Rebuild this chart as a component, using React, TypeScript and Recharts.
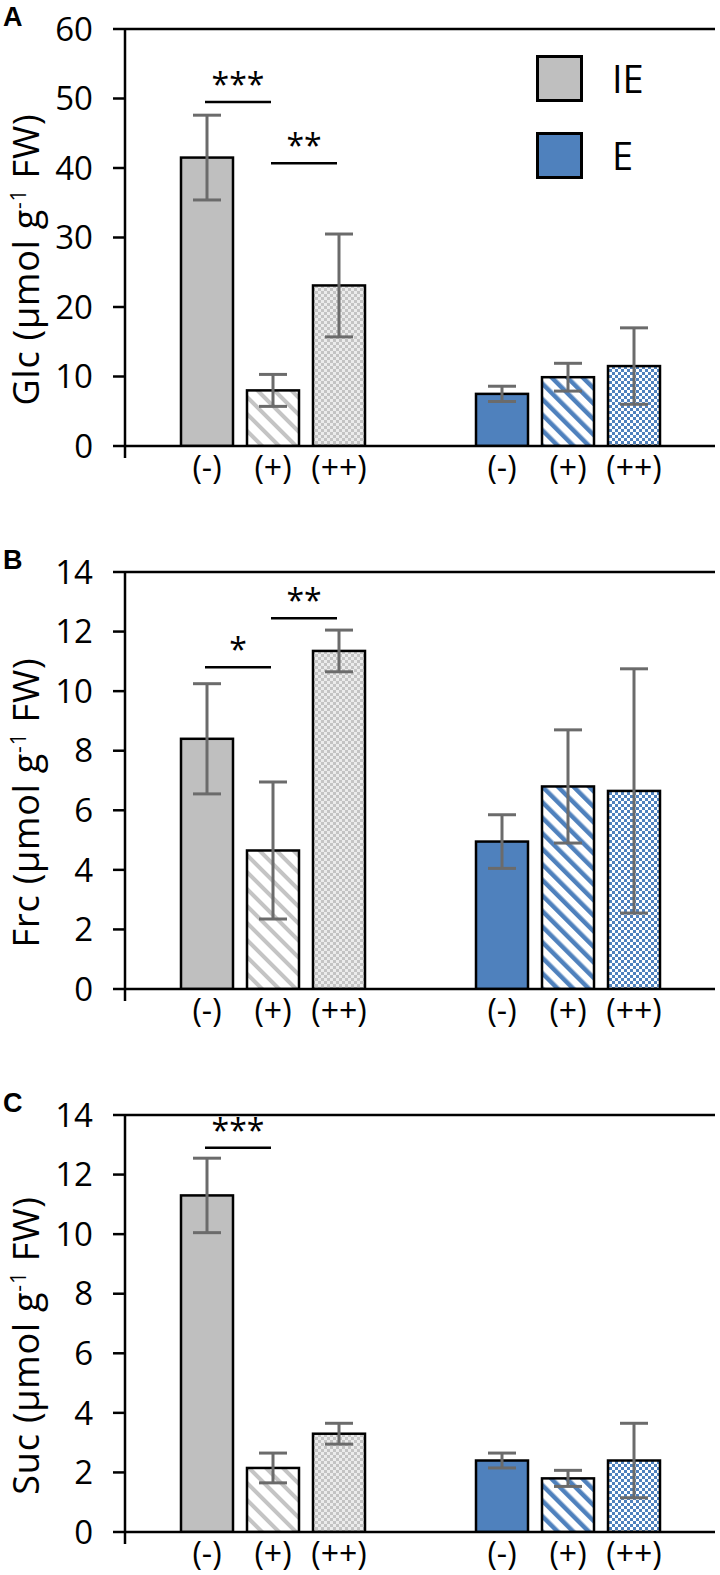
import React from 'react'
import { BarChart, Bar, XAxis, YAxis, ErrorBar, LabelList, ReferenceLine, Legend } from 'recharts'

const FONT = '"Open Sans", "Noto Sans", sans-serif'

const GROUPS = ['IE', 'E']
const TREATMENTS = ['(-)', '(+)', '(++)']

// values in order IE(-), IE(+), IE(++), E(-), E(+), E(++)
const GLC_MEAN = [41.5, 8.0, 23.1, 7.5, 9.9, 11.5]
const GLC_ERR = [6.1, 2.3, 7.4, 1.1, 2.0, 5.5]
const FRC_MEAN = [8.4, 4.65, 11.35, 4.95, 6.8, 6.65]
const FRC_ERR = [1.85, 2.3, 0.7, 0.9, 1.9, 4.1]
const SUC_MEAN = [11.3, 2.15, 3.3, 2.4, 1.8, 2.4]
const SUC_ERR = [1.25, 0.5, 0.35, 0.25, 0.27, 1.25]

// significance bars: between treatment `from` and `from + 1` within a group
const GLC_SIG = [
  { group: 0, from: 0, level: 49.5, stars: '***' },
  { group: 0, from: 1, level: 40.7, stars: '**' },
]
const FRC_SIG = [
  { group: 0, from: 0, level: 10.8, stars: '*' },
  { group: 0, from: 1, level: 12.45, stars: '**' },
]
const SUC_SIG = [{ group: 0, from: 0, level: 12.9, stars: '***' }]

const LEGEND_ITEMS = [
  { name: 'IE', color: '#bfbfbf' },
  { name: 'E', color: '#4f81bd' },
]

const FILLS = [
  ['#bfbfbf', 'url(#ieStripe)', 'url(#ieCheck)'],
  ['#4f81bd', 'url(#eStripe)', 'url(#eCheck)'],
]

const BAR_SIZE = 52
const BAR_GAP = 14
const CHART_W = 720

const PANELS = [
  { letter: 'A', name: 'Glc', yMax: 60, ticks: [0, 10, 20, 30, 40, 50, 60], mean: GLC_MEAN, err: GLC_ERR, sig: GLC_SIG, legend: true, h: 543 },
  { letter: 'B', name: 'Frc', yMax: 14, ticks: [0, 2, 4, 6, 8, 10, 12, 14], mean: FRC_MEAN, err: FRC_ERR, sig: FRC_SIG, legend: false, h: 543 },
  { letter: 'C', name: 'Suc', yMax: 14, ticks: [0, 2, 4, 6, 8, 10, 12, 14], mean: SUC_MEAN, err: SUC_ERR, sig: SUC_SIG, legend: false, h: 489 },
]

function buildRows(mean: number[], err: number[]) {
  return GROUPS.map((g, gi) => {
    const row: any = { group: g }
    TREATMENTS.forEach((_, ti) => {
      row['v' + ti] = mean[gi * 3 + ti]
      row['e' + ti] = err[gi * 3 + ti]
    })
    return row
  })
}

function boxOf(p: any) {
  const vb = p.viewBox && p.viewBox.width != null ? p.viewBox : p
  return { x: Number(vb.x), y: Number(vb.y), width: Number(vb.width), height: Number(vb.height) }
}

function TreatmentLabel(p: any, text: string) {
  const { x, y, width, height } = boxOf(p)
  return (
    <text x={x + width / 2} y={y + height + 33} textAnchor="middle" fontSize={32} fontFamily={FONT} fill="#000">
      {text}
    </text>
  )
}

function SigMark(p: any, list: any[]) {
  const s = list.find((d) => d.group === p.index)
  if (!s) return null
  const { x, y, width, height } = boxOf(p)
  const value = Number(p.value)
  const base = y + height
  const ly = base - (s.level * height) / value
  const x1 = x + width / 2 - 2
  const x2 = x1 + BAR_SIZE + BAR_GAP
  return (
    <g>
      <line x1={x1} x2={x2} y1={ly} y2={ly} stroke="#000" strokeWidth={2.5} />
      <text x={(x1 + x2) / 2} y={ly - 6} textAnchor="middle" fontSize={32} fontFamily={FONT} fill="#000">
        {s.stars}
      </text>
    </g>
  )
}

function yLabel(name: string) {
  return (props: any) => {
    const vb = props.viewBox || {}
    const cy = (vb.y ?? 29) + (vb.height ?? 417) / 2 + 22
    return (
      <text transform={`translate(39,${cy}) rotate(-90)`} textAnchor="middle" fontSize={36} fontFamily={FONT} fill="#000" letterSpacing={0.8}>
        <tspan>{name} (μmol g</tspan>
        <tspan dy={-13} fontSize={21}>-1</tspan>
        <tspan dy={13}> FW)</tspan>
      </text>
    )
  }
}

function LegendBox() {
  return (
    <div style={{ fontFamily: FONT }}>
      {LEGEND_ITEMS.map((it) => (
        <div key={it.name} style={{ display: 'flex', alignItems: 'center', height: 47, marginBottom: 30 }}>
          <div style={{ width: 41, height: 41, background: it.color, border: '3px solid #000' }} />
          <span style={{ marginLeft: 29, fontSize: 38, lineHeight: '47px', color: '#000' }}>{it.name}</span>
        </div>
      ))}
    </div>
  )
}

function Panel({ cfg, top }: { cfg: any; top: number }) {
  const rows = buildRows(cfg.mean, cfg.err)
  return (
    <div style={{ position: 'absolute', left: 0, top, width: CHART_W, height: cfg.h }}>
      <div style={{ position: 'absolute', left: 3, top: 4, fontFamily: '"Liberation Sans", Arial, sans-serif', fontWeight: 700, fontSize: 27, lineHeight: '27px', zIndex: 2 }}>
        {cfg.letter}
      </div>
      <BarChart width={CHART_W} height={cfg.h} data={rows} margin={{ top: 29, right: 5, bottom: cfg.h - 476, left: 20 }} barSize={BAR_SIZE} barGap={BAR_GAP}>
        <XAxis
          xAxisId="n"
          type="number"
          domain={[0, 2]}
          ticks={[0, 1, 2]}
          allowDataOverflow
          height={30}
          tickSize={12}
          axisLine={{ stroke: '#000', strokeWidth: 2.5 }}
          tickLine={{ stroke: '#000', strokeWidth: 2.5 }}
          tick={() => <g />}
        />
        <XAxis dataKey="group" hide height={0} />
        <YAxis
          domain={[0, cfg.yMax]}
          ticks={cfg.ticks}
          allowDataOverflow
          width={105}
          tickSize={12}
          tickMargin={20}
          axisLine={{ stroke: '#000', strokeWidth: 2.5 }}
          tickLine={{ stroke: '#000', strokeWidth: 2.5 }}
          tick={{ fontSize: 33, fill: '#000', fontFamily: FONT }}
          label={yLabel(cfg.name)}
        />
        <ReferenceLine y={cfg.yMax} stroke="#000" strokeWidth={2.5} />
        <ReferenceLine x={2} xAxisId="n" stroke="#000" strokeWidth={2.5} />
        {TREATMENTS.map((t, ti) => (
          <Bar key={t} dataKey={'v' + ti} isAnimationActive={false} stroke="#000" strokeWidth={2.5}
            shape={(p: any) => (
              <rect x={p.x} y={p.y} width={p.width} height={p.height} fill={FILLS[p.index][ti]} stroke="#000" strokeWidth={2.5} />
            )}
          >
            <ErrorBar dataKey={'e' + ti} direction="y" width={14} strokeWidth={3} stroke="#6b6b6b" isAnimationActive={false} />
            <LabelList dataKey={'v' + ti} content={(p: any) => TreatmentLabel(p, t)} />
            <LabelList dataKey={'v' + ti} content={(p: any) => SigMark(p, cfg.sig.filter((s: any) => s.from === ti))} />
          </Bar>
        ))}
        {cfg.legend && (
          <Legend layout="vertical" align="center" verticalAlign="middle" wrapperStyle={{ left: 536, top: 55, width: 'auto' }} content={() => <LegendBox />} />
        )}
      </BarChart>
    </div>
  )
}

export default function App() {
  return (
    <div style={{ position: 'absolute', left: 0, top: 0, width: 720, height: 1575, background: '#fff', overflow: 'hidden' }}>
      <svg width={0} height={0} style={{ position: 'absolute' }}>
        <defs>
          <pattern id="ieStripe" width={12} height={12} patternUnits="userSpaceOnUse" patternTransform="rotate(-45)">
            <rect width={12} height={12} fill="#fff" />
            <rect width={4} height={12} fill="#c4c4c4" />
          </pattern>
          <pattern id="eStripe" width={11} height={11} patternUnits="userSpaceOnUse" patternTransform="rotate(-45)">
            <rect width={11} height={11} fill="#fff" />
            <rect width={4.5} height={11} fill="#4f81bd" />
          </pattern>
          <pattern id="ieCheck" width={6} height={6} patternUnits="userSpaceOnUse">
            <rect width={6} height={6} fill="#ececec" />
            <rect width={3} height={3} fill="#c4c4c4" />
            <rect x={3} y={3} width={3} height={3} fill="#c4c4c4" />
          </pattern>
          <pattern id="eCheck" width={6} height={6} patternUnits="userSpaceOnUse">
            <rect width={6} height={6} fill="#fff" />
            <rect width={3} height={3} fill="#4f81bd" />
            <rect x={3} y={3} width={3} height={3} fill="#4f81bd" />
          </pattern>
        </defs>
      </svg>
      {PANELS.map((cfg, i) => (
        <Panel key={cfg.letter} cfg={cfg} top={i * 543} />
      ))}
    </div>
  )
}
